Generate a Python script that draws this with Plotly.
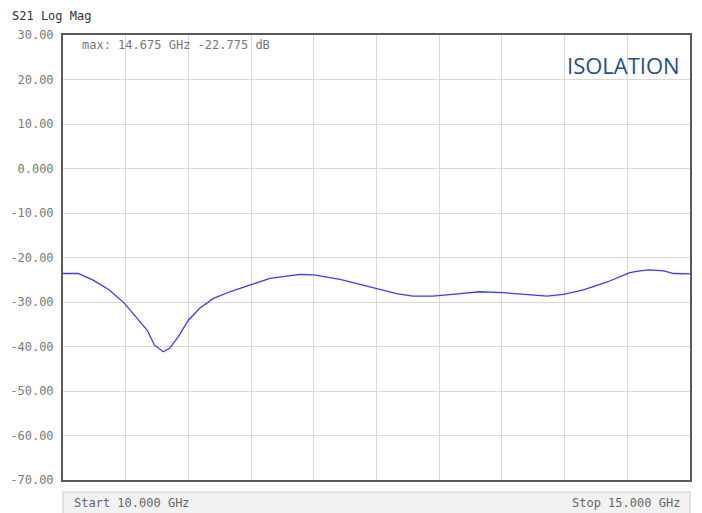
import plotly.graph_objects as go

freq_ghz = [10.00, 10.12, 10.24, 10.37, 10.49, 10.58, 10.67, 10.73, 10.80, 10.85,
            10.92, 11.00, 11.09, 11.20, 11.33, 11.47, 11.57, 11.65, 11.89, 12.00,
            12.21, 12.50, 12.66, 12.79, 12.95, 13.17, 13.32, 13.51, 13.70, 13.86,
            13.99, 14.15, 14.34, 14.52, 14.60, 14.675, 14.79, 14.87, 15.00]
s21_db = [-23.6, -23.6, -25.1, -27.3, -30.3, -33.3, -36.3, -39.7, -41.2, -40.4,
          -37.8, -34.1, -31.4, -29.2, -27.7, -26.4, -25.4, -24.7, -23.8, -23.9,
          -24.9, -27.0, -28.1, -28.7, -28.7, -28.1, -27.7, -27.9, -28.3, -28.7,
          -28.3, -27.3, -25.5, -23.4, -23.0, -22.8, -23.0, -23.6, -23.7]

y_tickvals = [30, 20, 10, 0, -10, -20, -30, -40, -50, -60, -70]
y_ticktext = ["30.00", "20.00", "10.00", "0.000", "-10.00", "-20.00", "-30.00",
              "-40.00", "-50.00", "-60.00", "-70.00"]
x_gridvals = [10 + 0.5 * i for i in range(11)]

title_text = "S21 Log Mag"
marker_text = "max: 14.675 GHz -22.775 dB"
label_text = "ISOLATION"
start_text = "Start 10.000 GHz"
stop_text = "Stop 15.000 GHz"

mono = "DejaVu Sans Mono, Liberation Mono, monospace"

fig = go.Figure()
fig.add_trace(go.Scatter(x=freq_ghz, y=s21_db, mode="lines",
                         line=dict(color="#3a3aff", width=1.3), hoverinfo="skip"))

# page body has an 8px margin, so the figure is 8px smaller and margins compensate
PH = 445.0
fig.update_layout(
    width=694, height=505,
    margin=dict(l=55, r=12, t=27, b=33, autoexpand=False),
    paper_bgcolor="white", plot_bgcolor="white",
    showlegend=False,
    xaxis=dict(range=[10, 15], tickvals=x_gridvals, showticklabels=False, automargin=False,
               showgrid=True, gridcolor="#d9d9d9", gridwidth=1, zeroline=False,
               showline=True, linecolor="#5a5a5a", linewidth=2, mirror=True, ticks=""),
    yaxis=dict(range=[-70, 30], tickvals=y_tickvals, ticktext=y_ticktext, automargin=False,
               showgrid=True, gridcolor="#d9d9d9", gridwidth=1, zeroline=False,
               showline=True, linecolor="#5a5a5a", linewidth=2, mirror=True,
               ticks="outside", ticklen=5, tickcolor="rgba(0,0,0,0)",
               tickfont=dict(family=mono, size=12, color="#7a7a7a")),
)

fig.add_annotation(xref="paper", yref="paper", x=0, y=1 + 19 / PH,
                   xanchor="left", yanchor="middle", text=title_text, showarrow=False,
                   xshift=-53, font=dict(family=mono, size=12, color="#333333"))
fig.add_annotation(xref="paper", yref="paper", x=0, y=1, xanchor="left", yanchor="top",
                   text=marker_text, showarrow=False, xshift=17, yshift=-1,
                   font=dict(family=mono, size=12, color="#777777"))
fig.add_annotation(xref="paper", yref="paper", x=1, y=1, xanchor="right", yanchor="middle",
                   text=label_text, showarrow=False, xshift=-8, yshift=-30,
                   font=dict(family="Open Sans, sans-serif", size=22, color="#1f4f8f"))

# bottom status bar
bar_top = -(492 - 480) / PH
fig.add_shape(type="rect", xref="paper", yref="paper", x0=0, x1=1,
              y0=bar_top, y1=bar_top - 30 / PH,
              line=dict(color="#c8c8c8", width=1), fillcolor="#f2f2f2", layer="above")
fig.add_annotation(xref="paper", yref="paper", x=0, y=-(503 - 480) / PH,
                   xanchor="left", yanchor="middle", text=start_text, showarrow=False,
                   xshift=9, font=dict(family=mono, size=12, color="#666666"))
fig.add_annotation(xref="paper", yref="paper", x=1, y=-(503 - 480) / PH,
                   xanchor="right", yanchor="middle", text=stop_text, showarrow=False,
                   xshift=-8, font=dict(family=mono, size=12, color="#666666"))

fig.write_html("out.html")
